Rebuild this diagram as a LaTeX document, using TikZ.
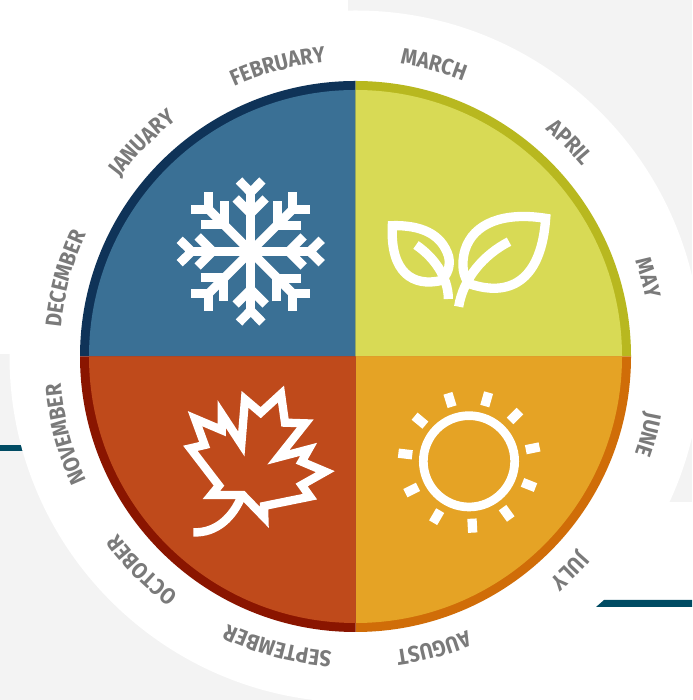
\documentclass[tikz,border=0pt]{standalone}
\usepackage{fontspec}
\usetikzlibrary{decorations.text}
\newfontfamily\mfont[FakeStretch=0.9,BoldFeatures={FakeStretch=0.9}]{Fira Sans}
\definecolor{bgray}{HTML}{F3F3F3}
\definecolor{teal}{HTML}{004B63}
\definecolor{mg}{HTML}{7A7A7A}
\definecolor{wblue}{HTML}{3A7095}\definecolor{wrim}{HTML}{0F3358}
\definecolor{sgreen}{HTML}{D8DA55}\definecolor{srim}{HTML}{B8B81F}
\definecolor{yorange}{HTML}{E5A325}\definecolor{yrim}{HTML}{D06D08}
\definecolor{ared}{HTML}{BF4A1B}\definecolor{arim}{HTML}{8A1500}
\tikzset{
  iconline/.style={draw=white,line width=#1,fill=none,miter limit=25},
  iconline/.default=8pt
}
% compass angle, text
\newcommand\monthlabel[2]{%
  \path[decorate,decoration={text along path,text align=center,
    text={|\mfont\bfseries\fontsize{22.5}{23}\selectfont\color{mg}|#2}}]
    ({355.5+296*cos(130-#1)},{343.5+296*sin(130-#1)})
    arc[start angle={130-#1},end angle={50-#1},radius=296];}
\newcommand\quadrant[4]{% start angle, end angle, fill, rim
  \fill[#4] (355.5,343.5) -- ++(#1:275.5) arc[start angle=#1,end angle=#2,radius=275.5] -- cycle;
  \fill[#3] (355.5,343.5) -- ++(#1:266.5) arc[start angle=#1,end angle=#2,radius=266.5] -- cycle;}
\newcommand\flakearm[1]{%
  \begin{scope}[rotate=#1]
   \draw[iconline=8.9pt] (0,0) -- (0,59);
   \draw[iconline=8.9pt] (-11.7,71) -- (0,59) -- (11.7,71);
   \draw[iconline=8.9pt] (-15,53) -- (0,38) -- (15,53);
  \end{scope}}
\newcommand\flakediag[1]{%
  \begin{scope}[rotate=#1]
   \draw[iconline=8.9pt] (0,0) -- (42,42);
   \draw[iconline=8.9pt] (42,59.5) -- (42,42) -- (59.5,42);
   \draw[iconline=8.9pt] (26,50) -- (26,27) -- (50,27);
  \end{scope}}
\begin{document}
\begin{tikzpicture}[x=1pt,y=1pt]
\useasboundingbox (0,0) rectangle (692,700);
\fill[white] (0,0) rectangle (692,700);
% background bands
\fill[bgray] (348,700) rectangle (692,198);
\fill[bgray] (0,346) rectangle (355,0);
\fill[teal] (0,255) rectangle (60,249);
\fill[teal] (596,93) -- (604,100) -- (692,100) -- (692,93) -- cycle;
\fill[white] (355.5,343.5) circle[radius=346];
% quadrants
\quadrant{90}{180}{wblue}{wrim}
\quadrant{0}{90}{sgreen}{srim}
\quadrant{-90}{0}{yorange}{yrim}
\quadrant{180}{270}{ared}{arim}
% months
\monthlabel{15}{MARCH}
\monthlabel{45}{APRIL}
\monthlabel{75}{MAY}
\monthlabel{105}{JUNE}
\monthlabel{135}{JULY}
\monthlabel{165}{AUGUST}
\monthlabel{195}{SEPTEMBER}
\monthlabel{225}{OCTOBER}
\monthlabel{255}{NOVEMBER}
\monthlabel{285}{DECEMBER}
\monthlabel{315}{JANUARY}
\monthlabel{345}{FEBRUARY}
% icons, in image coordinates
\begin{scope}[shift={(0,700)},yscale=-1]
 % snowflake
 \begin{scope}[shift={(250.7,251.5)}]
  \flakearm{0}\flakearm{90}\flakearm{180}\flakearm{270}
  \flakediag{0}\flakediag{90}\flakediag{180}\flakediag{270}
 \end{scope}
 % leaves
 \begin{scope}[shift={(370,190)},scale=0.33333]
  \draw[iconline=9.3pt] (67,107) .. controls (150,105) and (215,130) .. (236,200)
     .. controls (242,230) and (232,255) .. (212,272)
     .. controls (130,290) and (60,250) .. (67,107) -- cycle;
  \draw[iconline=9.3pt] (138,165) .. controls (190,200) and (235,260) .. (235,327);
  \draw[iconline=9.3pt] (527,85) .. controls (400,65) and (310,100) .. (285,180)
     .. controls (272,225) and (280,265) .. (300,282)
     .. controls (430,325) and (515,260) .. (527,85) -- cycle;
  \draw[iconline=9.3pt] (417,155) .. controls (340,195) and (280,265) .. (266,350);
 \end{scope}
 % maple
 \begin{scope}[shift={(170,370)},scale=0.33333]
  \draw[iconline=8.5pt] (70,487) .. controls (140,490) and (190,440) .. (215,378);
  \draw[iconline=8.3pt] (218,375) -- (124,375) -- (147,347) -- (61,235) -- (104,225) -- (75,146)
    -- (155,180) -- (155,132) -- (214,222) -- (225,88) -- (272,128) -- (333,72) -- (345,158)
    -- (406,160) -- (325,262) -- (416,238) -- (395,275) -- (466,305) -- (395,345) -- (420,380)
    -- (282,408) -- (283,442) -- cycle;
 \end{scope}
 % sun
 \begin{scope}[shift={(380,380)},scale=0.33333]
  \draw[iconline=8.7pt] (267,244) circle[radius=137];
  \foreach \x/\y in {210/60,320/58,405/108,458/205,447/315,380/400,277/437,170/410,95/330,76/222,120/122}{
    \pgfmathsetmacro\a{atan2(\y-244,\x-267)}
    \draw[iconline=9.3pt,shift={(\x,\y)},rotate=\a] (-21,0) -- (21,0);
  }
 \end{scope}
\end{scope}
\end{tikzpicture}
\end{document}
